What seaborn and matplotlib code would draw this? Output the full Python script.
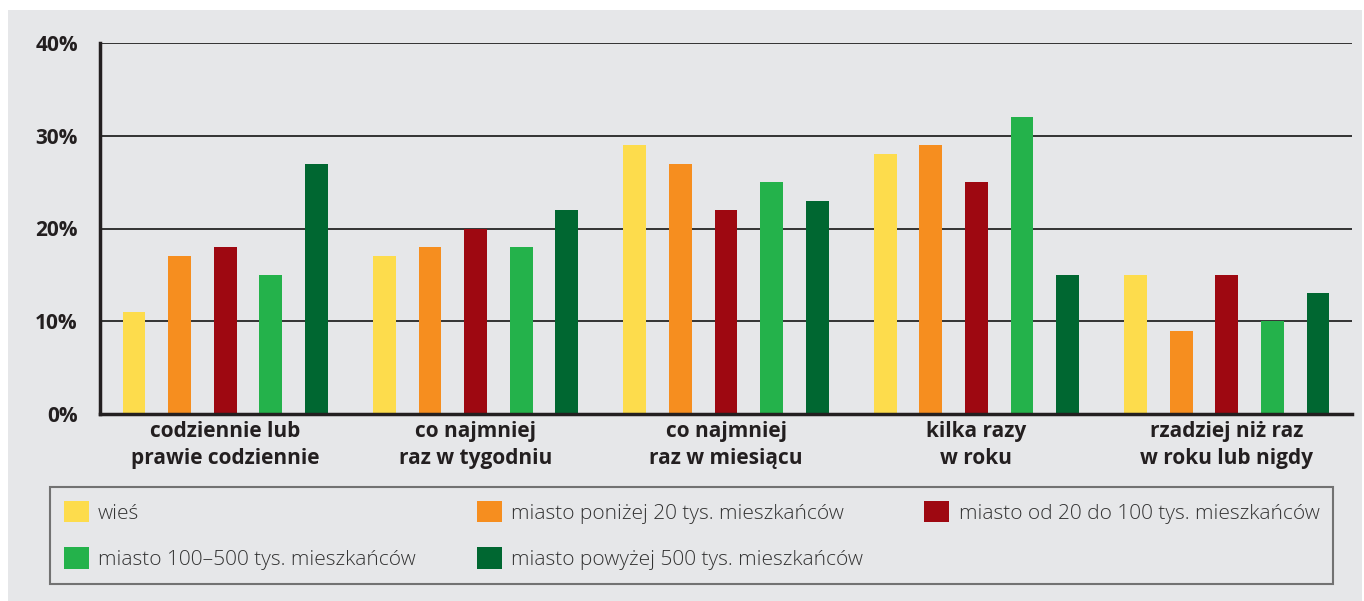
import matplotlib
matplotlib.use("Agg")
import matplotlib.pyplot as plt
import seaborn as sns
import pandas as pd
from matplotlib.patches import Rectangle

# dane z wykresu (w %)
categories = ['codziennie lub\nprawie codziennie', 'co najmniej\nraz w tygodniu',
              'co najmniej\nraz w miesiącu', 'kilka razy\nw roku',
              'rzadziej niż raz\nw roku lub nigdy']
groups = ['wieś', 'miasto poniżej 20 tys. mieszkańców',
          'miasto od 20 do 100 tys. mieszkańców',
          'miasto 100–500 tys. mieszkańców',
          'miasto powyżej 500 tys. mieszkańców']
wies = [11, 17, 29, 28, 15]
ponizej_20 = [17, 18, 27, 29, 9]
od_20_do_100 = [18, 20, 22, 25, 15]
od_100_do_500 = [15, 18, 25, 32, 10]
powyzej_500 = [27, 22, 23, 15, 13]
colors = ['#fddc4c', '#f68e1f', '#9e0811', '#24b24b', '#006731']
yticks = [0, 10, 20, 30, 40]

bg = '#e6e7e9'
dark = '#231f20'

sns.set_style('white')
plt.rcParams['font.family'] = ['Open Sans', 'DejaVu Sans']

series = [wies, ponizej_20, od_20_do_100, od_100_do_500, powyzej_500]
rows = []
for g, vals in zip(groups, series):
    for c, v in zip(categories, vals):
        rows.append({'kategoria': c, 'grupa': g, 'wartosc': v})
df = pd.DataFrame(rows)

fig = plt.figure(figsize=(13.64, 6.01), dpi=100, facecolor='white')
fig.add_artist(Rectangle((8 / 1364, 0), 1354 / 1364, 591 / 601,
                         transform=fig.transFigure, facecolor=bg,
                         edgecolor='none', zorder=-10))
ax = fig.add_axes([100 / 1364, 1 - 414 / 601, 1252 / 1364, 371 / 601])
ax.set_facecolor(bg)

sns.barplot(data=df, x='kategoria', y='wartosc', hue='grupa',
            order=categories, hue_order=groups, palette=colors,
            width=0.91, gap=0.5, saturation=1, linewidth=0,
            ax=ax, zorder=3)

ax.set_xlim(-0.5, 4.5)
ax.set_ylim(0, 40)
ax.set_yticks(yticks)
ax.set_yticklabels([f'{v}%' for v in yticks], fontsize=15, fontweight='bold',
                   color=dark)
ax.set_xticks(range(len(categories)))
ax.set_xticklabels(categories, fontsize=15, fontweight='bold', color=dark,
                   linespacing=1.4)
ax.set_xticks([-0.5, 0.5, 1.5, 2.5, 3.5], minor=True)
ax.tick_params(axis='x', which='major', length=0, pad=5)
ax.tick_params(axis='x', which='minor', length=7, width=2.2, color=dark,
               direction='out')
ax.tick_params(axis='y', length=8, width=2.2, color=dark, pad=8)
ax.set_xlabel('')
ax.set_ylabel('')

ax.yaxis.grid(True, color='#333333', lw=1.4, zorder=0)
ax.set_axisbelow(True)
for s in ['top', 'right']:
    ax.spines[s].set_visible(False)
for s in ['left', 'bottom']:
    ax.spines[s].set_color(dark)
    ax.spines[s].set_linewidth(2.5)
    ax.spines[s].set_zorder(4)

# legenda - kolejnosc wierszami
handles, labels = ax.get_legend_handles_labels()
ax.get_legend().remove()
order = [0, 3, 1, 4, 2]
leg = fig.legend([handles[i] for i in order], [labels[i] for i in order],
                 ncol=3, loc='center', mode='expand',
                 bbox_to_anchor=(50 / 1364, 16 / 601, 1283 / 1364, 99 / 601),
                 bbox_transform=fig.transFigure, borderaxespad=0,
                 frameon=True, fancybox=False, fontsize=15,
                 handlelength=1.2, handleheight=1.2, handletextpad=0.45,
                 labelspacing=1.15, borderpad=0.65)
leg.get_frame().set_edgecolor('#555555')
leg.get_frame().set_linewidth(1.5)
leg.get_frame().set_facecolor(bg)
for t in leg.get_texts():
    t.set_color('#333333')
    t.set_fontweight('light')

fig.savefig('out.png', dpi=100, facecolor=fig.get_facecolor())
